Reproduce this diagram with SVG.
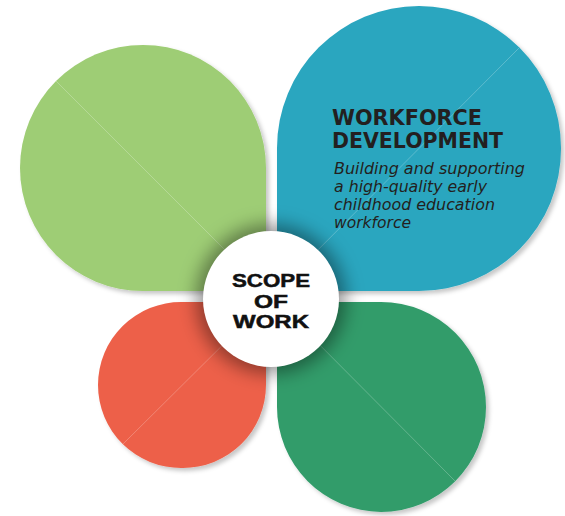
<svg xmlns="http://www.w3.org/2000/svg" width="565" height="516" viewBox="0 0 565 516">
  <defs>
    <filter id="petalShadow" x="-10%" y="-10%" width="125%" height="125%">
      <feDropShadow dx="3" dy="3" stdDeviation="2" flood-color="#000" flood-opacity="0.22"/>
    </filter>
    <filter id="hubShadow" x="-50%" y="-50%" width="200%" height="200%">
      <feGaussianBlur stdDeviation="9"/>
    </filter>
  </defs>
  <style>
    .petal { filter: url(#petalShadow); }
    .vein { stroke: #ffffff; stroke-opacity: 0.3; stroke-width: 0.8; fill: none; }
    .hub-label { font-family: "Liberation Sans", "DejaVu Sans", sans-serif; font-weight: bold; font-size: 18px; fill: #111111; stroke: #111111; stroke-width: 0.5; text-anchor: middle; }
    .title { font-family: "DejaVu Sans", "Liberation Sans", sans-serif; font-weight: bold; font-size: 20.5px; fill: #231f20; }
    .desc { font-family: "DejaVu Sans", "Liberation Sans", sans-serif; font-style: italic; font-size: 15px; fill: #231f20; }
  </style>

  <g id="petal-top-left">
    <path class="petal" fill="#9ecd74" d="M266 291 H143 A123 123 0 0 1 20 168 A123 123 0 0 1 143 45 A123 123 0 0 1 266 168 Z"/>
    <line class="vein" x1="56" y1="81" x2="266" y2="291"/>
  </g>

  <g id="petal-workforce-development">
    <path class="petal" fill="#2ba6bf" d="M277 291 V148 A142 142 0 0 1 419 6 A142 142 0 0 1 561 148 A142 142 0 0 1 419 291 Z"/>
    <line class="vein" x1="519" y1="48" x2="277" y2="291"/>
    <text class="title" x="332" y="125" textLength="150" lengthAdjust="spacingAndGlyphs">WORKFORCE</text>
    <text class="title" x="332" y="148" textLength="171" lengthAdjust="spacingAndGlyphs">DEVELOPMENT</text>
    <text class="desc" x="334" y="174" textLength="191" lengthAdjust="spacingAndGlyphs">Building and supporting</text>
    <text class="desc" x="334" y="192" textLength="153" lengthAdjust="spacingAndGlyphs">a high-quality early</text>
    <text class="desc" x="334" y="210" textLength="161" lengthAdjust="spacingAndGlyphs">childhood education</text>
    <text class="desc" x="334" y="228" textLength="77" lengthAdjust="spacingAndGlyphs">workforce</text>
  </g>

  <g id="petal-bottom-left">
    <path class="petal" fill="#ed614a" d="M266 302 V385 A83 83 0 0 1 182 468 A83 83 0 0 1 98 385 A83 83 0 0 1 182 302 Z"/>
    <line class="vein" x1="123" y1="444" x2="266" y2="302"/>
  </g>

  <g id="petal-bottom-right">
    <path class="petal" fill="#329c6b" d="M277 302 H381 A105 105 0 0 1 486 407 A105 105 0 0 1 381 512 A105 105 0 0 1 277 407 Z"/>
    <line class="vein" x1="455" y1="481" x2="277" y2="302"/>
  </g>

  <g id="hub-scope-of-work">
    <circle cx="271" cy="299" r="75" fill="#000" fill-opacity="0.4" filter="url(#hubShadow)"/>
    <circle cx="271" cy="299" r="68" fill="#ffffff"/>
    <text class="hub-label" x="271" y="287" textLength="78" lengthAdjust="spacingAndGlyphs">SCOPE</text>
    <text class="hub-label" x="271" y="307.5" textLength="34" lengthAdjust="spacingAndGlyphs">OF</text>
    <text class="hub-label" x="271" y="328" textLength="76" lengthAdjust="spacingAndGlyphs">WORK</text>
  </g>
</svg>
